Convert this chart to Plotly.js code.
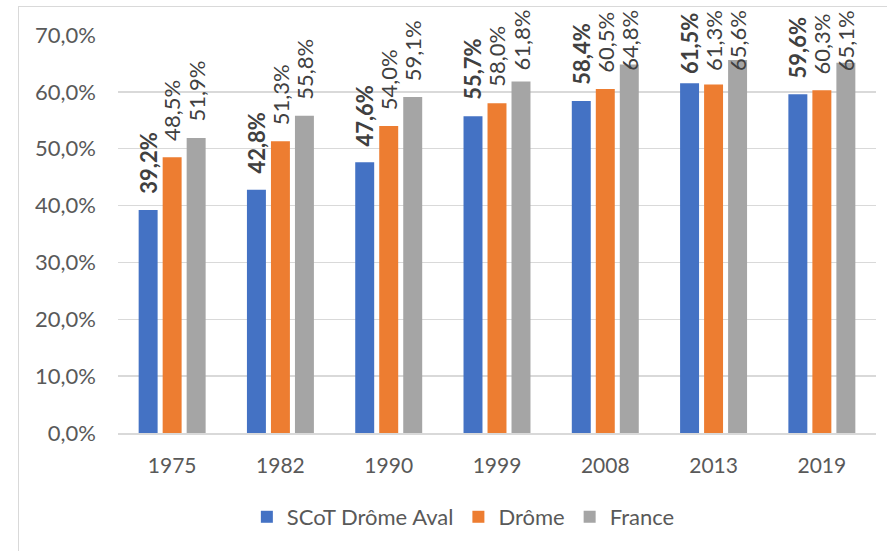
<!DOCTYPE html>
<html>
<head>
<meta charset="utf-8">
<script src="https://cdn.plot.ly/plotly-3.0.1.min.js"></script>
<style>
  html, body { margin: 0; padding: 0; background: #ffffff; }
  #frame { position: absolute; left: 18px; top: 6px; width: 1000px; height: 1000px; border: 1px solid #d9d9d9; box-sizing: border-box; }
  #chart { position: absolute; left: 0; top: 0; width: 887px; height: 551px; }
</style>
</head>
<body>
<div id="frame"></div>
<div id="chart"></div>
<script>
const categories = ['1975', '1982', '1990', '1999', '2008', '2013', '2019'];
const seriesNames = ['SCoT Drôme Aval', 'Drôme', 'France'];
const scotValues = [39.2, 42.8, 47.6, 55.7, 58.4, 61.5, 59.6];
const dromeValues = [48.5, 51.3, 54.0, 58.0, 60.5, 61.3, 60.3];
const franceValues = [51.9, 55.8, 59.1, 61.8, 64.8, 65.6, 65.1];
const yTickValues = [0, 10, 20, 30, 40, 50, 60, 70];

const colors = ['#4472C4', '#ED7D31', '#A5A5A5'];
const allSeries = [scotValues, dromeValues, franceValues];

const W = 887, Ht = 551;
const M = { l: 118, r: 11, t: 35, b: 118 };
const plotH = Ht - M.t - M.b;
const yMax = 70;
const fontFam = 'Lato, "Open Sans", sans-serif';

function fmt(v) { return v.toFixed(1).replace('.', ',') + '%'; }

const traces = allSeries.map((vals, i) => ({
  type: 'bar',
  name: seriesNames[i],
  x: categories,
  y: vals,
  marker: { color: colors[i] },
  hoverinfo: 'none'
}));

// data labels as annotations, rotated, clamped to the top of chart area
const slot = 24;
const gap = 15;
const annotations = [];
allSeries.forEach((vals, i) => {
  vals.forEach((v, j) => {
    const bold = i === 0;
    const L = bold ? 61 : 58;
    const barTop = M.t + plotH * (1 - v / yMax);
    const top = barTop - gap - L;
    let ys = gap;
    if (top < 14) ys = gap - (14 - top);
    annotations.push({
      x: j, y: v, xref: 'x', yref: 'y',
      text: bold ? '<b>' + fmt(v) + '</b>' : fmt(v),
      textangle: -90,
      showarrow: false,
      xanchor: 'center', yanchor: 'bottom',
      xshift: (i - 1) * slot,
      yshift: ys,
      borderpad: 0,
      font: { family: fontFam, size: 22, color: '#404040' }
    });
  });
});

const layout = {
  width: W, height: Ht,
  margin: M,
  paper_bgcolor: 'rgba(0,0,0,0)',
  plot_bgcolor: 'rgba(0,0,0,0)',
  barmode: 'group',
  bargap: 0.335,
  bargroupgap: 0.21,
  separators: ',.',
  font: { family: fontFam, size: 21, color: '#595959' },
  xaxis: {
    type: 'category',
    categoryorder: 'array', categoryarray: categories,
    range: [-0.5, categories.length - 0.5],
    showgrid: false,
    showline: true, linecolor: '#d9d9d9', linewidth: 1.5,
    ticks: '', ticklabelstandoff: 13,
    tickfont: { family: fontFam, size: 21, color: '#595959' }
  },
  yaxis: {
    range: [0, yMax],
    tickvals: yTickValues,
    ticktext: yTickValues.map(v => fmt(v)),
    showgrid: true, gridcolor: '#d9d9d9', gridwidth: 1.5,
    zeroline: false, showline: false,
    ticks: '', ticklabelstandoff: 21,
    tickfont: { family: fontFam, size: 22, color: '#595959' }
  },
  showlegend: true,
  legend: {
    orientation: 'h',
    x: 0.17, xanchor: 'left',
    y: -0.211, yanchor: 'middle',
    font: { family: fontFam, size: 22, color: '#595959' },
    bgcolor: 'rgba(0,0,0,0)'
  },
  annotations: annotations,
  hovermode: false
};

Plotly.newPlot('chart', traces, layout, { displayModeBar: false, staticPlot: true });
</script>
</body>
</html>
